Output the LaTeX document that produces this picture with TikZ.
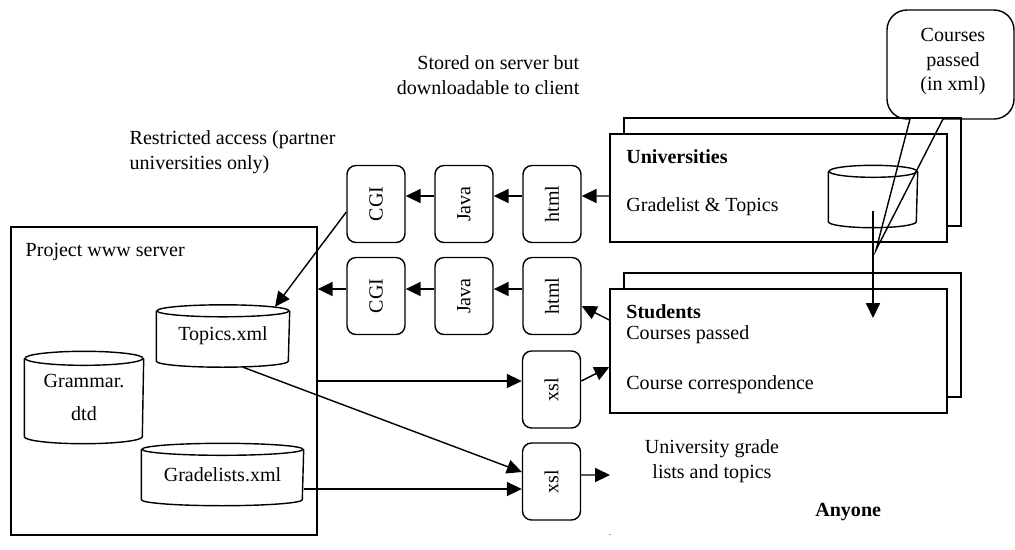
\documentclass[tikz,border=0pt]{standalone}
\usepackage{fontspec}
\setmainfont{Liberation Serif}
\usetikzlibrary{arrows.meta,calc,shadows}

% database drum drawn round a named node: name, x radius, y radius
\newcommand{\drum}[3]{%
  \draw ($(#1.north west)+(0,-#3)$) -- ($(#1.south west)+(0,#3)$)
    arc[start angle=180, end angle=360, x radius=#2, y radius=#3]
    -- ($(#1.north east)+(0,-#3)$);
  \draw ($(#1.north)+(0,-#3)$) ellipse[x radius=#2, y radius=#3];
}

\begin{document}
\fontsize{11.4}{14.2}\selectfont
\begin{tikzpicture}[
            x=0.02cm, y=0.02cm, line width=0.8pt,
            flow/.style={-{Triangle[length=8.5pt,width=8pt]}},
            chip/.style={draw, rounded corners=0.18cm, minimum width=1.16cm, minimum height=1.54cm,
                inner sep=0pt, label={[rotate=90]center:#1}},
            panel/.style={draw, fill=white, minimum width=6.74cm, inner sep=0pt,
                copy shadow={shadow xshift=0.28cm, shadow yshift=0.32cm, draw=black, fill=white}},
            store/.style={inner sep=0pt, align=center}
        ]
            \useasboundingbox (0,0) rectangle (1015,-549);

            % server side
            \node[draw, minimum width=6.12cm, minimum height=6.16cm] (server) at (164,-381) {};
            \node[anchor=west, inner sep=0pt] (servername) at (25,-252) {Project www server};
            \node[store, minimum width=2.64cm, minimum height=1.22cm] (topics) at (223,-336) {Topics.xml};
            \node[store, minimum width=2.36cm, minimum height=1.82cm] (grammar) at (84,-397.5) {Grammar.\\[5pt]dtd};
            \node[store, minimum width=3.22cm, minimum height=1.22cm] (grade) at (222.5,-474.5) {Gradelists.xml};
            \drum{topics}{66}{6}
            \drum{grammar}{59}{7}
            \drum{grade}{80.5}{6}

            % processing chain
            \node[chip=CGI] (cgiA) at (376,-204) {};
            \node[chip=Java] (javaA) at (464,-204) {};
            \node[chip=html] (htmlA) at (552,-204) {};
            \node[chip=CGI] (cgiB) at (376,-296) {};
            \node[chip=Java] (javaB) at (464,-296) {};
            \node[chip=html] (htmlB) at (552,-296) {};
            \node[chip=xsl] (xslA) at (551.5,-389.5) {};
            \node[chip=xsl] (xslB) at (551.5,-481.5) {};

            % clients
            \node[panel, minimum height=2.16cm] (univ) at (778.5,-188) {};
            \node[panel, minimum height=2.48cm] (students) at (778.5,-351) {};
            \node[anchor=west, font=\bfseries] (univname) at (619,-157) {Universities};
            \node[anchor=west] (univtext) at (619,-207) {Gradelist \& Topics};
            \node[store, minimum width=1.76cm, minimum height=1.22cm] (unidb) at (873,-196.5) {};
            \drum{unidb}{44}{6}
            \node[anchor=west, font=\bfseries] (studname) at (619,-312) {Students};
            \node[anchor=west] (studpassed) at (619,-335) {Courses passed};
            \node[anchor=west] (studcorr) at (619,-385) {Course correspondence};

            % notes
            \node[anchor=east, align=right, inner sep=0pt] (storednote) at (580,-75.5) {Stored on server but\\downloadable to client};
            \node[anchor=west, align=left, inner sep=0pt] (accessnote) at (129,-152.5) {Restricted access (partner\\universities only)};
            \node[store] (gradenote) at (712,-461.5) {University grade\\lists and topics};
            \node[anchor=west, font=\bfseries] (anyone) at (808,-512) {Anyone};
            \node[inner sep=0pt, font=\tiny] (stray) at (610,-535) {.};
            \node[store] (callnote) at (953,-61.5) {Courses\\passed\\(in xml)};
            \draw (910,-119) -- (876,-250) -- (943,-119) [rounded corners=0.4cm] -- (1014,-119)
                -- (1014,-10) -- (887,-10) -- (887,-119) -- (910,-119);

            % connectors
            \draw[flow] ([yshift=-.16cm]univ.west) -- ([yshift=.16cm]htmlA.east);
            \draw[flow] ([yshift=.16cm]htmlA.west) -- ([yshift=.16cm]javaA.east);
            \draw[flow] ([yshift=.16cm]javaA.west) -- ([yshift=.16cm]cgiA.east);
            \draw[flow] ([yshift=-.16cm]cgiA.west) -- ([xshift=1.04cm,yshift=-.04cm]topics.north);

            \draw[flow] ([yshift=.62cm]students.west) -- ([yshift=-.2cm]htmlB.east);
            \draw[flow] ([yshift=.14cm]htmlB.west) -- ([yshift=.14cm]javaB.east);
            \draw[flow] ([yshift=.14cm]javaB.west) -- ([yshift=.14cm]cgiB.east);
            \path ([yshift=.14cm]cgiB.west) coordinate (cgiout);
            \draw[flow] (cgiout) -- (cgiout -| server.east);

            \draw[flow] (server.east) -- (server.east -| xslA.west);
            \draw[flow] ([yshift=.17cm]xslA.east) -- ([yshift=-.32cm]students.west);
            \draw[flow] ([xshift=.4cm]topics.south) -- ([yshift=.19cm]xslB.west);
            \path ([yshift=-.29cm]grade.east) coordinate (gradeout);
            \draw[flow] (gradeout) -- (gradeout -| xslB.west);
            \coordinate (toany) at (610,-475);
            \draw[flow] ([yshift=.13cm]xslB.east) -- (toany);

            \coordinate (drop) at (873,-318);
            \draw[flow] ([yshift=-.28cm]unidb.center) -- (drop);
        \end{tikzpicture}
\end{document}
